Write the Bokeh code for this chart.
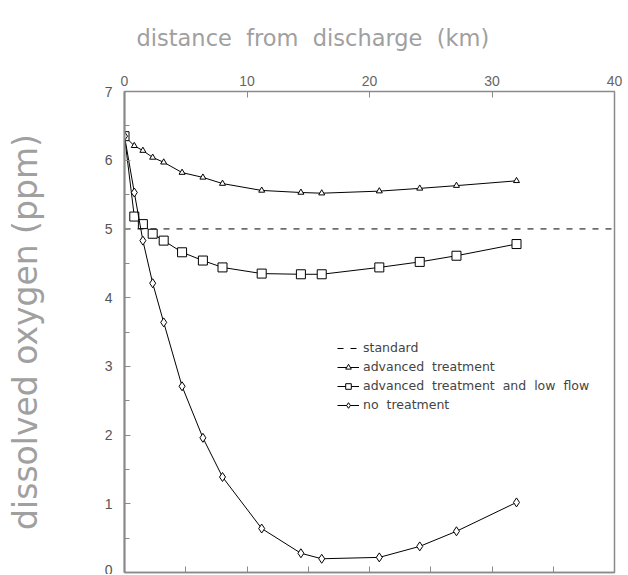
from bokeh.plotting import figure
from bokeh.models import LinearAxis, FixedTicker, Legend, LegendItem, Title, Range1d
from bokeh.embed import file_html
from bokeh.resources import INLINE

# ---- data ----
distance_km = [0, 0.8, 1.5, 2.3, 3.2, 4.7, 6.4, 8.0, 11.2, 14.4, 16.1, 20.8, 24.1, 27.1, 32.0]
advanced_treatment = [6.35, 6.21, 6.14, 6.04, 5.97, 5.82, 5.75, 5.66, 5.56, 5.53, 5.52, 5.55, 5.59, 5.63, 5.70]
advanced_low_flow = [6.35, 5.18, 5.07, 4.93, 4.83, 4.66, 4.54, 4.44, 4.35, 4.34, 4.34, 4.44, 4.52, 4.61, 4.78]
no_treatment = [6.35, 5.53, 4.83, 4.21, 3.64, 2.71, 1.96, 1.39, 0.64, 0.28, 0.20, 0.22, 0.38, 0.60, 1.02]
standard_level = 5.0
x_limits = [0, 40]
y_limits = [0, 7]
top_ticks = [0, 10, 20, 30, 40]
bottom_ticks = [0, 5, 10, 15, 20, 25, 30, 35, 40]
y_ticks = [0, 1, 2, 3, 4, 5, 6, 7]
y_minor_ticks = [0.5, 1.5, 2.5, 3.5, 4.5, 5.5, 6.5]

NB = "\u00a0 "
FONT = "Liberation Sans"
WIDE = "DejaVu Sans"
AX = "#8a8a8a"

p = figure(width=624, height=574,
           x_range=Range1d(*x_limits), y_range=Range1d(*y_limits),
           output_backend="svg", toolbar_location=None,
           x_axis_location="above",
           min_border_left=124, min_border_right=10,
           min_border_top=90, min_border_bottom=2)
p.grid.visible = False
p.outline_line_color = AX
p.outline_line_width = 1.5

# top axis (labelled)
xa = p.xaxis[0]
xa.ticker = FixedTicker(ticks=top_ticks)
xa.major_tick_in = 6
xa.major_tick_out = 0
xa.minor_tick_line_color = None
xa.axis_line_color = AX
xa.major_tick_line_color = AX
xa.major_label_text_font = FONT
xa.major_label_text_font_size = "14px"
xa.major_label_text_color = "#666666"
xa.major_label_standoff = 6

# bottom axis (ticks only)
xb = LinearAxis(ticker=FixedTicker(ticks=bottom_ticks))
xb.major_tick_in = 6
xb.major_tick_out = 0
xb.minor_tick_line_color = None
xb.axis_line_color = AX
xb.axis_line_width = 1.5
xb.major_tick_line_color = AX
xb.major_label_overrides = {t: "" for t in bottom_ticks}
xb.major_label_standoff = 0
p.add_layout(xb, "below")

# left axis
ya = p.yaxis[0]
ya.ticker = FixedTicker(ticks=y_ticks, minor_ticks=y_minor_ticks)
ya.major_tick_in = 6
ya.major_tick_out = 0
ya.minor_tick_in = 5
ya.minor_tick_out = 0
ya.axis_line_color = AX
ya.axis_line_width = 2
ya.major_tick_line_color = AX
ya.minor_tick_line_color = AX
ya.major_label_text_font = FONT
ya.major_label_text_font_size = "14px"
ya.major_label_text_color = "#555555"
ya.major_label_standoff = 12
ya.axis_label = "dissolved oxygen (ppm)"
ya.axis_label_text_font = WIDE
ya.axis_label_text_font_style = "normal"
ya.axis_label_text_font_size = "33px"
ya.axis_label_text_color = "#a0a0a0"
ya.axis_label_standoff = 57

# title
p.add_layout(Title(text=NB.join(["distance", "from", "discharge", "(km)"]), align="left", offset=12,
                   text_font=WIDE, text_font_size="22.5px", text_font_style="normal",
                   text_color="#a0a0a0", standoff=44), "above")

# standard line
r_std = p.line(x=x_limits, y=[standard_level] * 2, line_color="black",
               line_dash="6 7", line_width=1)

# series
l1 = p.line(distance_km, advanced_treatment, line_color="black", line_width=1)
m1 = p.scatter(distance_km, advanced_treatment, marker="triangle", size=6,
               fill_color="white", line_color="black", line_width=1)
l2 = p.line(distance_km, advanced_low_flow, line_color="black", line_width=1)
m2 = p.scatter(distance_km, advanced_low_flow, marker="square", size=9,
               fill_color="white", line_color="black", line_width=1)
l3 = p.line(distance_km, no_treatment, line_color="black", line_width=1)
m3 = p.scatter(distance_km, no_treatment, marker="diamond", size=9,
               fill_color="white", line_color="black", line_width=1)

legend = Legend(items=[
    LegendItem(label="standard", renderers=[r_std]),
    LegendItem(label=NB.join(["advanced", "treatment"]), renderers=[l1, m1]),
    LegendItem(label=NB.join(["advanced", "treatment", "and", "low", "flow"]), renderers=[l2, m2]),
    LegendItem(label=NB.join(["no", "treatment"]), renderers=[l3, m3]),
], location=(213, 160), orientation="vertical",
    glyph_width=22, glyph_height=14, label_height=14, spacing=4,
    label_standoff=4, padding=0, margin=0,
    label_text_font=WIDE, label_text_font_size="12.5px", label_text_color="#444444",
    border_line_color=None, background_fill_alpha=0)
p.add_layout(legend, "center")

open("out.html", "w").write(file_html(p, INLINE))
